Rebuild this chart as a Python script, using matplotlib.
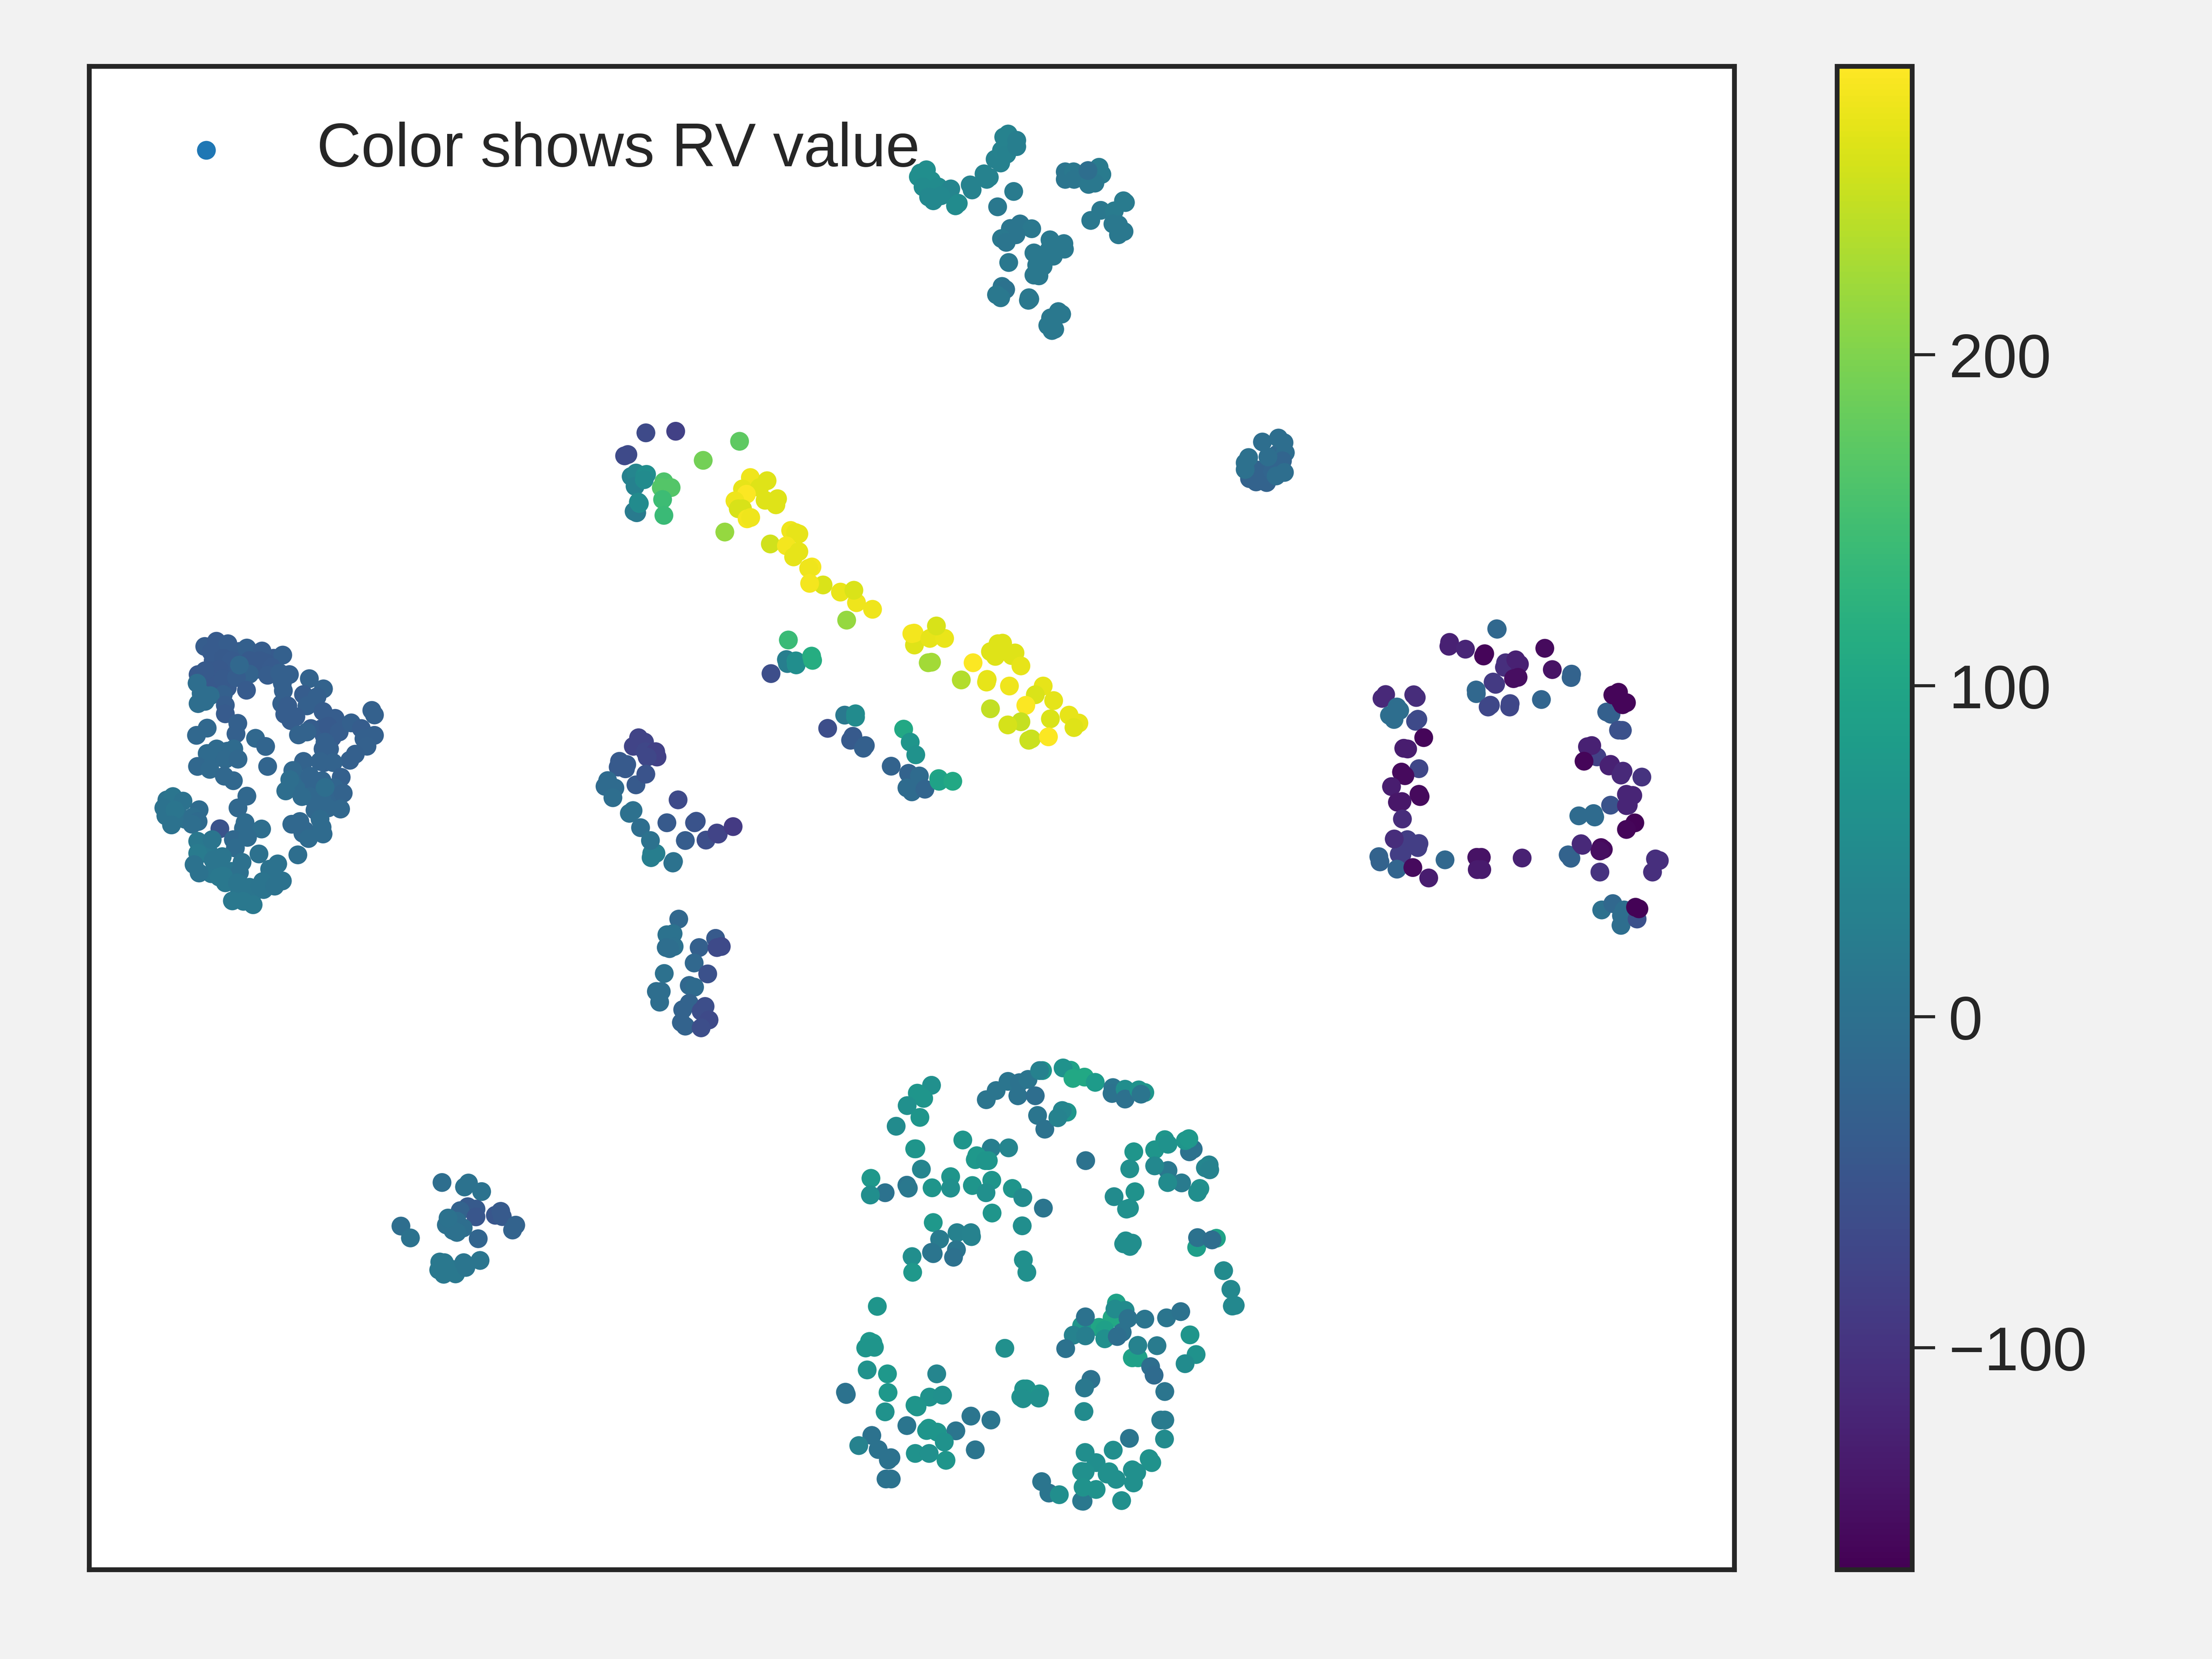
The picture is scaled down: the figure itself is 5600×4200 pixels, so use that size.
import numpy as np
import matplotlib
matplotlib.use('Agg')
import matplotlib.pyplot as plt

plt.rcParams['font.family'] = ['Liberation Sans', 'DejaVu Sans']
plt.rcParams['text.color'] = '#262626'
plt.rcParams['axes.edgecolor'] = '#262626'
plt.rcParams['xtick.color'] = '#262626'
plt.rcParams['ytick.color'] = '#262626'

left_blob = [
    (470,300,-40),(560,260,-38),(600,260,-35),(620,340,-40),(680,340,-40),(480,400,-42),(450,400,-42),(560,340,-40),
    (680,270,-38),(770,290,-38),(540,420,-38),(900,830,-15),(960,860,-20),(1060,900,-20),(1010,900,-15),(950,900,-15),
    (880,860,-10),(1040,950,-15),(1010,600,-38),(1060,640,-38),(1020,630,-35),(1030,720,-30),(1020,750,-28),
    (450,1150,12),(460,1240,12),(560,1230,10),(560,1270,12),(600,1310,10),(660,1340,12),(720,1310,8),(610,1340,12),
    (480,1220,12),(430,1130,12),(280,930,8),(330,1000,0),(420,1150,15),(520,710,-12),(480,730,-10),(540,700,-12),
    (428,238,-35),(486,215,-38),(543,226,-35),(460,262,-38),(637,245,-30),(712,258,-35),(815,276,-30),
    (520,290,-40),(560,300,-38),(650,300,-40),(700,300,-40),(730,310,-40),(760,330,-38),(650,360,-25),
    (740,365,-35),(800,355,-30),(848,362,-30),(500,340,-42),(440,345,-42),(395,362,-42),(430,345,-40),
    (520,380,-40),(585,375,-35),(635,431,-38),(600,320,-15),(390,400,-5),(813,400,-30),(818,433,-30),
    (520,450,-30),(410,445,-5),(455,455,-5),(395,490,-5),(430,480,-5),(530,497,-35),(530,535,-38),
    (592,577,-30),(583,623,-30),(440,598,-15),(387,630,-15),(680,643,-15),(730,679,-20),
    (947,380,-25),(1017,425,-25),(918,450,-35),(985,460,-30),(810,490,-30),(840,500,-35),(935,500,-30),
    (1015,525,-35),(825,537,-35),(880,548,-35),(855,565,-35),(955,600,-35),(893,628,-25),(935,615,-25),
    (1075,555,-35),(1040,590,-40),(1095,615,-35),(1155,575,-30),(1257,520,-28),(1270,540,-28),
    (1205,600,-35),(1270,630,-30),(1218,645,-30),(1233,678,-28),(1025,660,-30),(1015,690,-30),
    (1047,690,-30),(1175,713,-30),(1148,740,-30),(1000,745,-25),(1065,750,-25),(918,745,-25),(865,785,-15),
    (440,710,-10),(487,690,-10),(572,690,-10),(530,735,-12),(593,735,-15),(392,767,-15),(453,780,-12),
    (525,810,-15),(570,830,-15),(740,767,-20),(850,825,-5),(830,875,-5),(950,810,-20),(1010,830,-20),
    (1105,815,-30),(1070,860,-20),(1115,885,-25),(910,900,-10),(1000,920,-15),(975,960,-15),(1102,955,-15),
    (1025,860,-5),(637,898,-15),(593,950,-15),(240,915,5),(270,900,10),(320,920,5),(225,950,5),(235,985,5),
    (280,960,10),(263,1025,5),(400,958,-10),(370,990,-5),(395,1010,-10),(365,1022,-5),(628,1015,-10),
    (620,1040,-10),(503,1042,-50),(710,1043,-5),(570,1090,-15),(640,1080,-10),(580,1127,-10),(393,1097,15),
    (465,1090,10),(393,1150,20),(515,1165,10),(470,1180,10),(375,1200,5),(400,1237,5),(613,1190,0),
    (600,1235,0),(697,1153,0),(790,1197,5),(750,1220,5),(890,1157,-5),(860,1022,-15),(900,1010,-15),
    (925,1050,-15),(915,1062,-15),(1010,1035,-10),(1000,1000,-10),(1015,1065,-10),(943,1085,-10),
    (520,1250,15),(500,1255,15),(530,1280,15),(590,1280,10),(650,1300,10),(700,1295,8),(715,1275,8),
    (775,1295,5),(813,1272,5),(565,1360,15),(620,1362,15),(668,1377,15),
]
bottom_blob = [
    (352,178,60),(303,202,70),(325,218,70),(268,240,60),(312,276,70),(230,303,50),(460,345,70),(294,372,75),
    (298,372,70),(558,370,25),(618,369,40),(508,393,75),(503,405,75),(538,408,70),(548,408,70),(317,434,40),
    (143,462,75),(418,457,70),(560,468,70),(267,483,10),(272,492,15),(192,506,5),(141,513,55),(354,491,70),
    (418,492,60),(493,484,70),(540,506,60),(631,493,70),(667,521,50),(738,553,10),(561,568,70),(665,607,55),
    (358,597,75),(440,628,30),(488,628,35),(380,648,20),(490,640,35),(438,680,10),(352,688,10),(358,692,10),
    (428,703,0),(285,701,55),(287,749,75),(669,711,60),(681,749,60),(541,222,10),(575,194,10),(616,166,10),
    (655,170,5),(685,160,10),(650,210,5),(710,210,-5),(735,133,70),(725,133,30),(832,132,95),(806,125,65),
    (840,157,105),(880,153,105),(917,169,80),(978,185,10),(975,203,5),(1020,190,55),(1020,220,0),(1067,192,65),
    (1088,200,70),(1075,205,10),(718,270,10),(743,312,5),(820,260,70),(803,255,40),(788,277,35),(1050,381,70),
    (1036,433,60),(1255,373,5),(1242,381,5),(1157,344,70),(1122,375,70),(1168,358,65),(1228,347,70),(1240,341,75),
    (1168,438,15),(1122,424,45),(1215,476,20),(1167,475,50),(1310,421,35),(1297,430,40),(1312,436,35),(1278,493,60),
    (1270,505,55),(982,518,50),(1054,503,65),(1035,553,60),(1025,556,60),(884,408,5),(1022,653,55),(1045,660,55),
    (1015,662,55),(1037,670,55),(1335,645,95),(1267,673,85),(1270,643,5),(1320,650,-5),(1360,744,50),(1385,801,45),
    (1390,852,45),(1400,850,45),(990,843,95),(975,888,105),(985,861,50),(1020,865,50),(930,917,100),(870,912,70),
    (950,925,90),(883,885,5),(1030,890,5),(1088,892,10),(1163,888,10),(1212,869,5),(841,941,35),(883,943,25),
    (950,952,60),(1010,932,5),(993,945,-5),(815,982,5),(1045,1010,95),(1065,1010,90),(1064,972,35),(1130,973,20),
    (1244,940,70),(1265,1000,65),(1227,1028,50),(1108,1037,-5),(1120,1063,-10),(902,1076,5),(880,1102,15),
    (1157,1113,10),(878,1174,50),(1143,1200,20),(1157,1200,20),(1156,1258,50),(1035,1256,10),(165,853,70),
    (138,960,75),(150,965,75),(125,980,70),(155,978,70),(130,1047,65),(200,1059,75),(202,1116,75),(192,1175,65),
    (370,1059,40),(605,981,60),(670,1105,65),(680,1105,65),(725,1120,70),(660,1130,65),(668,1135,60),(722,1133,60),
    (55,1115,5),(58,1122,5),(345,1130,65),(390,1124,60),(295,1155,70),(302,1160,70),(488,1188,10),(557,1200,10),
    (267,1217,10),(436,1233,10),(342,1225,75),(335,1232,70),(372,1237,70),(396,1267,65),(146,1247,5),(101,1278,35),
    (168,1290,5),(212,1315,5),(203,1322,5),(296,1302,65),(344,1302,60),(402,1323,70),(503,1291,10),(195,1380,5),
    (213,1380,5),(882,1299,55),(979,1292,55),(920,1330,55),(1103,1318,65),(1112,1330,65),(870,1357,65),(882,1358,60),
    (965,1358,65),(958,1365,60),(1045,1352,60),(1060,1360,60),(989,1381,60),(1049,1392,60),(732,1388,10),(757,1423,10),
    (793,1428,55),(870,1447,15),(875,1448,15),(875,1405,65),(920,1412,65),(1008,1446,60),
]
right_ring = [
    (470,220,-125),(467,237,-125),(540,250,-120),(625,270,-160),(620,280,-160),(678,160,-15),(680,162,-15),
    (890,246,-155),(923,340,-145),(1008,360,-25),(1006,375,-25),(717,310,-105),(712,330,-105),(762,297,-125),
    (778,316,-125),(752,380,-150),(772,374,-150),(662,395,-90),(673,405,-90),(587,430,-15),(588,446,-15),
    (875,472,-20),(650,497,-70),(640,505,-70),(737,490,-70),(735,505,-70),(188,450,-115),(172,467,-115),
    (312,451,-110),(323,463,-110),(238,505,-5),(250,520,-5),(205,542,-5),(225,560,-5),(330,559,-65),(320,568,-65),
    (356,640,-160),(268,687,-130),(285,690,-130),(335,777,-70),(258,792,-155),(273,808,-155),(214,856,-130),
    (335,890,-155),(340,900,-155),(260,922,-140),(240,925,-140),(262,999,-110),(284,1090,-85),(335,1107,-85),
    (330,1125,-85),(248,1155,-85),(260,1155,-85),(226,1087,-110),(158,1165,-25),(163,1188,-25),(238,1220,-20),
    (308,1213,-155),(378,1259,-130),(450,1179,-15),(590,1168,-145),(610,1168,-145),(592,1222,-135),(612,1222,-135),
    (790,1171,-125),(993,1157,-25),(1005,1172,-25),(1050,1108,-115),(1056,1115,-115),(1138,1125,-155),(1148,1133,-155),
    (1133,1140,-150),(1133,1233,-100),(1378,1175,-105),(1395,1182,-105),(1365,1233,-105),(1163,527,-30),(1182,537,-30),
    (1190,452,-160),(1215,440,-160),(1233,495,-160),(1250,486,-160),(1225,480,-160),(1215,607,-55),(1232,608,-55),
    (1120,725,-80),(1078,680,-125),(1097,675,-125),(1063,744,-160),(1180,758,-125),(1173,765,-125),(1235,788,-115),
    (1226,805,-115),(1318,814,-100),(1180,938,-50),(1250,890,-120),(1278,895,-120),(1250,940,-120),(1258,938,-120),
    (1040,985,-10),(1105,975,-10),(1110,990,-10),(1287,1016,-165),(1250,1045,-160),(1141,1400,0),(1190,1372,-15),
    (1240,1400,-5),(1228,1425,-5),(1226,1468,-5),(1297,1440,-55),(1290,1388,-165),(1305,1395,-165),
]
diagonal = [
    (163,143,-65),(254,137,-80),(98,230,-65),(108,225,-65),(338,247,190),(449,175,175),(118,308,30),(133,295,40),
    (160,302,50),(165,300,55),(130,345,30),(158,320,50),(218,328,160),(210,350,165),(240,350,165),(214,395,145),
    (218,455,140),(127,440,20),(135,445,20),(143,410,55),(140,405,50),(482,312,275),(533,324,265),(458,355,270),
    (510,350,265),(470,375,285),(565,392,265),(527,398,265),(435,400,275),(560,415,265),(445,430,260),(458,430,260),
    (472,468,280),(483,463,275),(404,518,215),(605,512,275),(620,520,270),(630,525,270),(543,563,255),(592,570,280),
    (630,592,270),(614,612,270),(670,650,280),(660,655,275),(704,718,262),(663,712,280),(757,745,272),(806,785,275),
    (798,738,262),(855,810,275),(776,851,215),(598,926,140),(592,1000,25),(595,1015,25),(621,1005,55),(622,1020,55),
    (669,987,115),(672,1003,115),(545,1053,-60),(983,945,265),(982,900,280),(975,902,280),(1030,920,270),(1075,920,272),
    (1050,873,260),(1025,1012,225),(1035,1010,225),(1162,1012,285),(1126,1077,235),(1205,1075,270),(1203,1085,270),
    (1273,1100,275),(1238,940,265),(1252,938,265),(1215,970,265),(1230,988,265),(1290,975,265),(1280,985,265),
    (1308,1024,270),(1376,1100,270),(1352,1133,262),(1408,1155,268),(1323,1173,285),(1215,1186,245),(1308,1235,248),
    (1268,1247,258),(1398,1224,262),(1455,1210,270),(1485,1240,270),(1470,1257,265),(1340,1300,250),(1332,1305,250),
    (1392,1292,285),(770,1210,15),(803,1205,50),(803,1218,50),(718,1260,-60),(795,1290,-40),(788,1305,-40),(833,1325,-30),
    (827,1335,-30),(950,1263,105),(970,1312,70),(987,1360,65),(912,1403,-25),(965,1430,-25),(998,1440,-10),(960,1485,-10),
    (975,1500,-10),(1015,1490,-20),(1057,1450,100),(1058,1460,95),(1100,1460,105),
]
top_group = [
    (207,282,55),(185,295,55),(178,310,55),(225,325,55),(195,350,50),(250,350,50),(295,358,40),(215,390,45),(260,385,45),
    (232,405,45),(312,425,50),(322,415,50),(365,342,35),(372,362,35),(415,298,35),(425,320,35),(434,312,35),(455,240,30),
    (475,255,30),(478,205,35),(497,220,30),(486,152,35),(502,140,35),(533,165,25),(533,190,25),(522,368,20),(464,429,15),
    (708,290,10),(708,320,10),(738,290,15),(740,320,10),(830,272,20),(840,300,20),(792,340,15),(815,335,15),(790,285,-5),
    (836,443,15),(885,445,20),(918,405,20),(925,412,20),(800,483,15),(880,497,15),(900,500,15),(920,527,15),(900,540,15),
    (545,497,10),(587,516,15),(510,515,10),(530,540,10),(478,555,15),(495,570,10),(653,560,15),(703,575,15),(705,597,15),
    (650,600,15),(595,612,15),(665,625,15),(625,640,15),(605,660,15),(628,665,15),(595,700,15),(613,703,15),(504,650,15),
    (480,745,10),(493,757,5),(460,778,15),(475,790,15),(577,790,15),(580,795,15),(575,800,15),(683,845,15),(695,855,15),
    (655,870,15),(645,900,15),(670,915,15),(660,920,15),
]
middle_group = [
    (500,125,-75),(545,145,-75),(460,165,-75),(550,190,-70),(630,190,-80),(640,215,-80),(565,215,-70),(355,235,-40),
    (410,250,-40),(345,262,-40),(400,270,-40),(480,345,-40),(555,295,-50),(265,325,-10),(320,360,-10),(245,352,-10),
    (305,405,-5),(800,415,-65),(458,465,0),(430,478,0),(515,545,-5),(595,685,25),(600,665,25),(632,665,25),(590,605,5),
    (715,522,-40),(925,522,-50),(938,515,-50),(855,605,-35),(1012,603,-60),(1095,570,-75),(1105,575,-75),(1218,540,-90),
    (760,710,5),(765,703,5),(805,972,-15),(715,1045,5),(762,1040,5),(710,1105,-5),(770,1100,0),(735,1110,-5),(960,1105,-30),
    (695,1226,0),(635,1310,-5),(672,1310,-5),(660,1360,-5),(922,1177,-15),(1085,1062,-40),(1095,1105,-65),(1128,1100,-65),
    (1025,1228,-55),(885,1282,-15),(925,1290,-10),(885,1365,-25),(835,1395,-25),(825,1455,-25),(855,1472,-25),
    (1005,1380,-60),(975,1402,-60),(1035,1443,-65),(975,1480,-60),
]
lower_left = [
    (507,221,-5),(708,225,5),(678,255,5),(808,290,5),(195,552,-5),(267,642,5),(703,405,-40),(765,423,-40),(645,435,-25),
    (765,482,-45),(620,515,-5),(668,566,-5),(540,543,0),(590,585,0),(620,600,0),(553,491,5),(912,470,-45),(953,440,-40),
    (965,480,-40),(1067,545,-25),(1043,582,-25),(782,648,-20),(490,825,15),(525,830,15),(482,885,15),(520,918,15),
    (610,915,15),(580,880,15),(672,830,10),(688,866,10),(796,813,10),
]
small_blob = [
    (300,450,-25),(250,420,-25),(350,400,-22),(400,300,-15),(400,400,-20),(220,440,-25),(340,480,-25),(430,380,-20),
    (190,485,-25),(240,510,-25),(320,515,-25),(280,420,-25),(365,430,-20),(288,207,-5),(410,177,-5),(452,212,-5),
    (462,288,-5),(440,350,-20),(183,325,0),(157,365,0),(157,416,0),(330,320,-5),(392,465,-5),(455,438,-5),
]

# cluster, view origin, view magnification
clusters = [
    (left_blob, 300, 1500, 1.96, 1.742),
    (bottom_blob, 2100, 2600, 1.363, 1.206),
    (right_ring, 3400, 1500, 1.742, 1.742),
    (diagonal, 1500, 1000, 1.206, 1.493),
    (top_group, 2200, 250, 1.425, 1.568),
    (middle_group, 1450, 1800, 3.0, 1.845),
    (lower_left, 950, 2920, 3.0, 3.0),
    (small_blob, 3100, 1050, 3.0, 3.0),
]
rv_ticks = [-100, 0, 100, 200]
rv_min, rv_max = -167.0, 287.1
legend_label = 'Color shows RV value'

xs, ys, rvs = [], [], []
for pts, ox, oy, sx, sy in clusters:
    a = np.array(pts, dtype=float)
    xs.append(ox + a[:, 0] / sx)
    ys.append(oy + a[:, 1] / sy)
    rvs.append(a[:, 2])
xs = np.concatenate(xs)
ys = np.concatenate(ys)
rvs = np.concatenate(rvs)

W, H = 5600.0, 4200.0
fig = plt.figure(figsize=(8, 6), dpi=700, facecolor='#f2f2f2')
ax = fig.add_axes([226 / W, 1 - 3974 / H, (4390.6 - 226) / W, (3974 - 168) / H])
cax = fig.add_axes([4651 / W, 1 - 3974 / H, 190 / W, (3974 - 168) / H])

sc = ax.scatter(xs, ys, c=rvs, s=24, cmap='viridis', vmin=rv_min, vmax=rv_max, linewidths=0)
ax.scatter([], [], s=24, color='#1f77b4', linewidths=0, label=legend_label)
ax.set_xlim(226, 4390.6)
ax.set_ylim(3974, 168)
ax.set_xticks([])
ax.set_yticks([])
for s in ax.spines.values():
    s.set_linewidth(1.25)
ax.legend(loc='upper left', frameon=False, fontsize=16)

cb = fig.colorbar(sc, cax=cax, ticks=rv_ticks)
cb.outline.set_linewidth(1.25)
cb.outline.set_edgecolor('#262626')
cax.tick_params(length=6, width=0.8, labelsize=16, pad=3.5)

fig.savefig('out.png', dpi=700)
